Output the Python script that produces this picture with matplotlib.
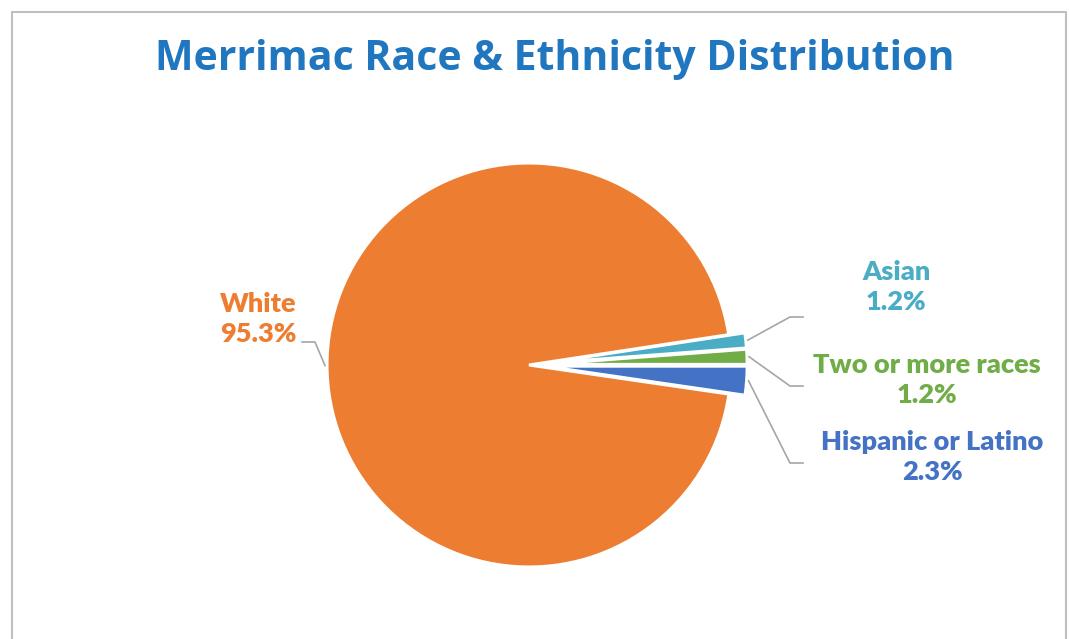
import numpy as np
import matplotlib
matplotlib.use("Agg")
import matplotlib.pyplot as plt
from matplotlib.lines import Line2D

# data
labels = ["Asian", "Two or more races", "Hispanic or Latino", "White"]
shares = [1.2, 1.2, 2.3, 95.3]
colors = ["#4BACC6", "#70AD47", "#4472C4", "#ED7D31"]
explode = [0.08, 0.08, 0.08, 0.0]

# label layout (pixels, y from bottom)
label_pos = [(896, 352), (927, 259), (932, 182), (258, 320)]
elbow_pos = [(790, 322), (790, 253), (790, 176), (315, 297)]
elbow_end = [(803, 322), (803, 253), (803, 176), (302, 297)]

R = 202
fig = plt.figure(figsize=(10.7, 6.39), dpi=100)
ax = fig.add_axes([0, 0, 1, 1])

start = 360 * (shares[0] + shares[1]) / 100
wedges, _ = ax.pie(shares, colors=colors, explode=[e * R for e in explode],
                   startangle=start, counterclock=False, radius=R, center=(529, 274),
                   wedgeprops=dict(edgecolor="white", linewidth=2.2), frame=True)
ax.set_xlim(0, 1070)
ax.set_ylim(0, 639)
ax.set_aspect("equal")
ax.axis("off")

for w, lab, v, c, tp, ep, ee in zip(wedges, labels, shares, colors,
                                     label_pos, elbow_pos, elbow_end):
    ang = np.deg2rad((w.theta1 + w.theta2) / 2)
    cx, cy = w.center
    x0 = cx + (w.r + 2) * np.cos(ang)
    y0 = cy + (w.r + 2) * np.sin(ang)
    ax.add_line(Line2D([x0, ep[0], ee[0]], [y0, ep[1], ee[1]],
                       color="#A6A6A6", lw=1.2))
    ax.text(tp[0], tp[1], f"{lab}\n{v:.1f}%", color=c, ha="center", va="center",
            fontsize=19.5, fontweight="heavy", family=["Lato", "DejaVu Sans"],
            linespacing=1.3)

ax.text(555, 579, "Merrimac Race & Ethnicity Distribution", color="#2077C0",
        ha="center", va="center", fontsize=29.5, fontweight="bold",
        family=["Liberation Sans Narrow", "Open Sans", "DejaVu Sans"])

# chart border
ax.add_line(Line2D([12, 12, 1066, 1066], [0, 627, 627, 0], color="#BFBFBF", lw=1.5))

fig.savefig("out.png", dpi=100)
